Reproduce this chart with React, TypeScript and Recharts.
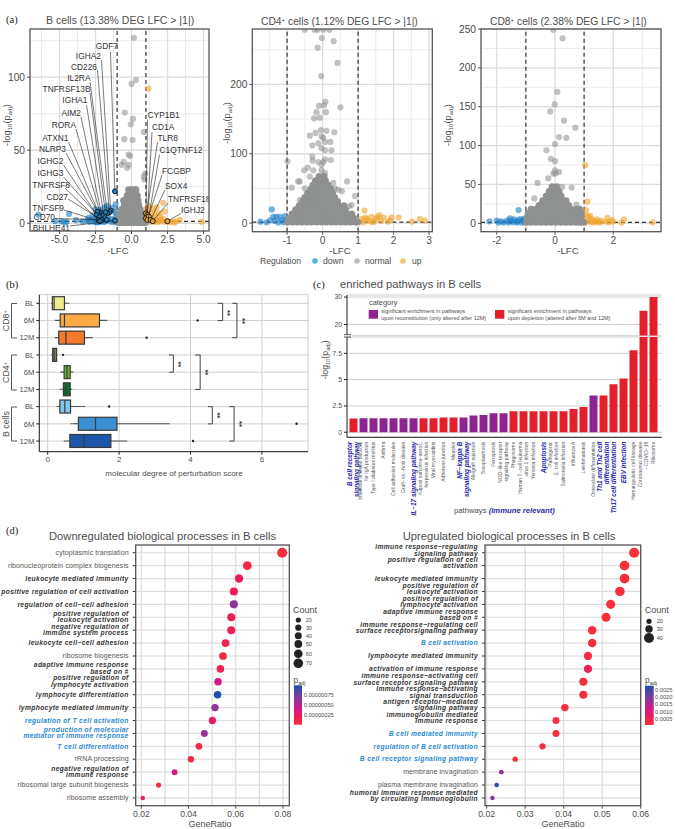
import {
  Bar,
  BarChart,
  CartesianGrid,
  Cell,
  ReferenceLine,
  Scatter,
  ScatterChart,
  XAxis,
  YAxis,
} from 'recharts';

const W = 675;
const H = 829;
const INK = '#4d4d4d';
const GRID = '#dcdcdc';

type Pt = [number, number];

// ---------- (a) volcano values, [LFC, -log10 padj] ----------
const bDown: Pt[] = [[-6.47,5.9],[-4.34,6.4],[-4.66,0.7],[-4.85,1.2],[-4.5,1],[-3.85,2.1],[-3.4,1.3],[-3.1,1.8],[-2.9,1],[-2.75,2.6],[-2.6,1.1],[-2.5,3.5],[-2.45,1],[-2.4,0.6],[-2.25,0.9],[-2.1,1.2],[-2,3.6],[-1.9,0.8],[-1.8,1.5],[-1.65,4],[-1.5,1.2],[-1.4,3],[-1.3,0.8],[-1.2,2.4],[-1.1,1],[-1.05,3.8],[-2.5,9.5],[-2.2,9],[-1.9,10.5],[-1.6,9.5],[-1.3,10.5],[-1.1,13],[-1.2,8],[-1.05,6.5],[-1.7,12],[-2.7,5.5],[-3,3.5],[-5.3,1.4]];
const bNormal: Pt[] = [[0.17,127],[0.31,98],[0,95.4],[-0.47,75.8],[0.1,71.4],[-0.05,67.8],[0.86,62.5],[-0.5,57.6],[0.07,57],[-0.2,47],[-0.1,46],[-0.7,40],[-0.55,42],[-0.2,40],[-0.3,38],[0.85,32],[0.95,34],[0.9,30]];
const bMass: [number, number[]][] = [
  [0.6, [-0.95,-0.75,-0.55,-0.35,-0.15,0.05,0.25,0.45,0.65,0.85,0.97]],
  [3.5, [-0.9,-0.7,-0.5,-0.3,-0.1,0.1,0.3,0.5,0.7,0.9]],
  [6.5, [-0.85,-0.6,-0.4,-0.2,0,0.2,0.4,0.6,0.82]],
  [9.5, [-0.7,-0.45,-0.25,-0.05,0.15,0.35,0.6]],
  [12.5, [-0.5,-0.3,-0.1,0.1,0.3,0.5]],
  [15.5, [-0.55,-0.3,-0.05,0.2,0.45]],
  [19, [-0.3,-0.12,0.1,0.3,0.4]],
  [23, [-0.2,0,0.2,0.3]],
];
const bUp: Pt[] = [[1.17,92.2],[2.2,14],[1.75,11],[1.05,10],[1.5,10],[1.2,12],[1.05,7],[1.3,7.5],[1.6,7],[1.9,7],[2.3,8],[1.1,4],[1.4,4],[1.7,4],[2,4.5],[2.2,3],[1.05,1],[1.3,1],[1.6,1],[1.85,1],[2.05,1.2],[2.3,1],[2.6,0.9],[3.37,2.3],[3,0.5],[2.8,1],[3.1,1.5],[4.87,1],[1.15,2.2],[1.5,2.5],[1.75,2],[2,2.2]];

const geneNames = ['GDF7','IGHA2','CD226','IL2RA','TNFRSF13B','IGHA1','AIM2','RORA','ATXN1','NLRP3','IGHG2','IGHG3','TNFRSF8','CD27','TNFSF9','CD70','BHLHE41','CYP1B1','CD1A','TLR8','C1QTNF12','FCGBP','SOX4','TNFRSF18','IGHJ2'];
const geneLfc = [-1.15,-1.45,-1.54,-1.68,-1.82,-1.91,-2.07,-2.19,-2.28,-2.37,-2.42,-2.23,-2.3,-2.07,-2.19,-1.72,-1.15,1,1.1,1,1.2,1.1,1.33,1.47,2.49];
const genePadj = [21.9,8.7,7.5,6.8,7.5,4.6,5.7,7.5,6.8,7.8,5.7,4.1,2.3,2.3,1.4,2.3,1.8,6.8,5.7,3.4,4.6,2.3,2.3,1.4,1.4];
// label layout: text x, baseline y, anchor, leader start x, leader start y (page pixels)
const geneLabelLayout: [number, number, 'end' | 'start', number, number][] = [
  [118,49,'end',110.5,52],[101,59,'end',101.5,60],[97,70,'end',97.5,70],[90.5,81,'end',90,82],[90.5,92,'end',90,93],
  [87.5,103,'end',86.5,105],[81,116,'end',81,117],[76,128,'end',76,129],[68.5,141,'end',68.5,142],[66,152,'end',66,153],
  [63.5,164,'end',63.5,165],[63.5,176,'end',63.5,177],[70,188,'end',65,188],[68,200,'end',68,199],[64,211,'end',64,210],
  [55,220,'end',55,218.5],[70,231,'end',70,226],
  [147.5,118,'start',147.5,119.5],[152,130,'start',152,132],[157.5,141,'start',157.5,142],[159.5,153,'start',159.5,154.5],
  [162,174,'start',162,175],[165,189,'start',165,190],[168,202,'start',168,203],[181,213,'start',181,213.5],
];

const cd4Down: Pt[] = [[-1.43,19.7],[-1.75,2],[-1.58,1],[-1.48,4],[-1.39,9],[-1.3,9],[-1.2,9],[-1.06,10],[-1.15,4],[-1.25,0.8],[-1.1,1],[-1.35,3],[-1.02,5]];
const cd4Normal: Pt[] = [[-0.5,279],[-0.22,279],[-0.14,279],[0.02,279],[0.19,279],[-0.02,267],[0.31,262.5],[-0.14,253],[0.42,231],[-0.04,212],[0.08,175],[-0.1,169],[0.04,170],[0.5,167],[-0.17,160],[0.09,160],[-0.08,152],[-0.24,151],[-0.05,134],[0.11,133],[0.33,131],[-0.2,130],[-0.36,126],[-0.03,125],[0.02,123],[-0.29,112],[-0.12,115],[0.07,117],[0.22,117],[-0.03,108],[0.07,105],[0.25,105],[-0.29,96],[-0.28,90],[-0.99,89],[0.07,92],[0.02,88],[0.23,91],[-0.12,88],[-0.03,84],[-0.42,80],[-0.52,76],[-0.26,76],[-0.03,76],[0.07,72],[-0.36,67],[-0.64,60],[-0.69,60],[0.69,60],[0.3,58],[-0.87,51],[-0.5,50],[0.44,48],[0.54,46],[0.91,39],[0.35,50],[-0.64,33],[0.82,26],[0.74,24]];
const cd4Mass: [number, number[]][] = [
  [1.5, [-0.98,-0.85,-0.72,-0.58,-0.44,-0.31,-0.17,-0.03,0.11,0.25,0.38,0.52,0.66,0.79,0.92,0.98]],
  [7, [-0.95,-0.8,-0.66,-0.52,-0.38,-0.24,-0.1,0.04,0.18,0.32,0.46,0.6,0.74,0.88]],
  [13, [-0.86,-0.72,-0.58,-0.44,-0.3,-0.16,-0.02,0.12,0.26,0.4,0.54,0.68,0.82]],
  [19, [-0.76,-0.62,-0.48,-0.34,-0.2,-0.06,0.08,0.22,0.36,0.5,0.64]],
  [25, [-0.66,-0.52,-0.38,-0.24,-0.1,0.04,0.18,0.32,0.46,0.6]],
  [31, [-0.56,-0.42,-0.28,-0.14,0,0.14,0.28,0.42]],
  [37, [-0.5,-0.36,-0.22,-0.08,0.06,0.2,0.34]],
  [43, [-0.42,-0.28,-0.14,0,0.14,0.28]],
  [49, [-0.33,-0.19,-0.05,0.09,0.23]],
  [55, [-0.27,-0.13,0.01,0.15]],
  [61, [-0.2,-0.06,0.08]],
  [67, [-0.1,0.04]],
];
const cd4Up: Pt[] = [[1.18,18],[1.05,2],[1.1,6],[1.2,8],[1.3,3],[1.38,9],[1.45,2],[1.5,6],[1.6,11.5],[1.65,3],[1.72,8],[1.85,2],[1.94,8],[1.9,4],[2.14,8],[2.52,2],[2.74,6],[2.88,3.4],[1.15,1],[1.25,6],[1.4,1.5],[1.55,9]];

const cd8Down: Pt[] = [[-1.25,17],[-2.25,2.5],[-2,3.4],[-1.94,1],[-1.77,1],[-1.54,6.4],[-1.54,3],[-1.45,1.5],[-1.6,1],[-1.4,5],[-1.3,1],[-1.25,3.5],[-1.15,1],[-1.1,4],[-1.05,1.5],[-1.35,2.5],[-1.2,5.5],[-1.05,6],[-1.85,2.5],[-1.65,3.5]];
const cd8Normal: Pt[] = [[-0.06,249],[0.26,238],[0.08,169],[-0.01,153],[-0.16,144],[0.31,132],[0.7,123],[0.14,111],[0.39,110],[0,102],[-0.29,94],[-0.14,83],[0,80],[0,68],[0.14,66],[-0.06,64],[0.02,64],[-0.23,58],[-0.6,52],[0.57,46],[0.25,47],[-0.71,32],[0.74,24]];
const cd8Mass: [number, number[]][] = [
  [1.5, [-0.98,-0.82,-0.65,-0.48,-0.31,-0.14,0.03,0.2,0.37,0.54,0.71,0.86,0.98]],
  [7, [-0.96,-0.79,-0.62,-0.45,-0.28,-0.11,0.06,0.23,0.4,0.57,0.74,0.9]],
  [13, [-0.92,-0.75,-0.58,-0.41,-0.24,-0.07,0.1,0.27,0.44,0.61,0.78,0.9]],
  [18, [-0.82,-0.64,-0.47,-0.3,-0.13,0.04,0.21,0.38,0.55,0.72,0.84]],
  [23, [-0.55,-0.38,-0.21,-0.04,0.13,0.3,0.47]],
  [29, [-0.42,-0.25,-0.08,0.09,0.26,0.38]],
  [35, [-0.3,-0.13,0.04,0.21]],
  [41, [-0.2,-0.03,0.14]],
  [47, [-0.1,0.06]],
];
const cd8Up: Pt[] = [[1.04,75],[1.12,28],[1.07,17],[3.35,1.3],[2.37,5],[2.29,1],[2,2],[1.05,1],[1.1,4],[1.15,8],[1.2,2],[1.25,6],[1.3,1],[1.35,3.5],[1.4,1.5],[1.45,5],[1.5,2],[1.55,1],[1.6,3],[1.75,2],[1.8,7],[1.85,1.5],[1.95,4],[1.05,11],[1.2,10]];

// ---------- (b) molecular degree of perturbation ----------
const mdpGroups = ['CD8+ BL','CD8+ 6M','CD8+ 12M','CD4+ BL','CD4+ 6M','CD4+ 12M','B BL','B 6M','B 12M'];
const mdpLow = [0.1,0.2,0.2,0.1,0.35,0.33,0.25,0.64,0.45];
const mdpQ1 = [0.13,0.35,0.31,0.14,0.46,0.44,0.34,0.86,0.62];
const mdpMedian = [0.18,0.47,0.51,0.18,0.54,0.51,0.48,1.34,1.01];
const mdpQ3 = [0.47,1.45,1.03,0.25,0.63,0.63,0.64,1.94,1.77];
const mdpHigh = [0.61,1.67,1.26,0.27,0.72,0.69,1.05,3.42,2.23];
const mdpOutlier = [null,4.2,2.77,0.43,null,null,1.72,6.97,4.07];
const mdpColors = ['#eeea8e','#fbab42','#f57a2c','#76864c','#6cb52d','#0f6b36','#7ec8f2','#3a90d2','#1b56a8'];
const mdpBrackets: [string, string, number, number][] = [
  ['CD8+ BL','CD8+ 6M',4.76,4.9],['CD8+ BL','CD8+ 12M',5.17,5.3],
  ['CD4+ BL','CD4+ 6M',3.4,3.52],['CD4+ BL','CD4+ 12M',4.13,4.27],
  ['B BL','B 6M',4.49,4.61],['B BL','B 12M',5.09,5.22],
];

// ---------- (c) enriched pathways ----------
const pathways = ['B cell receptor\nsignaling pathway','Intestinal immune network\nfor IgA production','Type I diabetes mellitus','Asthma','Cell adhesion molecules','Graft−vs.−host disease','IL−17 signaling pathway','Kaposi sarcoma−assoc.\nherpesvirus infection','Viral myocarditis','Adherens junction','Measles','NF−kappa B\nsignaling pathway','Allograft rejection','Toxoplasmosis','Ferroptosis','NOD−like receptor\nsignaling pathway','Phagosome','Human T−cell leukemia\nvirus 1 infection','Yersinia infection','Apoptosis','Pathogenic\nE. coli infection','Salmonella infection','Influenza A','Leishmaniasis','Osteoclast differentiation','Th1 and Th2 cell\ndifferentiation','Th17 cell differentiation','EBV infection','Hematopoietic cell lineage','Coronavirus disease\n− COVID−19','Ribosome'];
const pathwayValues = [1.3,1.33,1.33,1.33,1.33,1.33,1.33,1.33,1.33,1.4,1.4,1.4,1.6,1.65,1.8,1.8,2,2,2,2,2,2,2.2,2.4,3.5,3.5,4.55,5.1,7.8,25,30];
// r = upon depletion, p = upon reconstitution
const pathwayCategory = 'rpppppprrrrppppprrrrrrrrprrrrrr';
const immunePathways = ['B cell receptor\nsignaling pathway','IL−17 signaling pathway','NF−kappa B\nsignaling pathway','Apoptosis','Th1 and Th2 cell\ndifferentiation','Th17 cell differentiation','EBV infection'];

// ---------- (d) GO dot plots ----------
const downTerms = ['cytoplasmic translation','ribonucleoprotein complex biogenesis','leukocyte mediated immunity','positive regulation of cell activation','regulation of cell−cell adhesion','positive regulation of\nleukocyte activation','negative regulation of\nimmune system process','leukocyte cell−cell adhesion','ribosome biogenesis','adaptive immune response\nbased on #','positive regulation of\nlymphocyte activation','lymphocyte differentiation','lymphocyte mediated immunity','regulation of T cell activation','production of molecular\nmediator of immune response','T cell differentiation','rRNA processing','negative regulation of\nimmune response','ribosomal large subunit biogenesis','ribosome assembly'];
const downStyle = ['p','p','b','b','b','b','b','b','p','b','b','b','b','c','c','c','p','b','p','p'];
const downRatio = [0.0797,0.0649,0.0614,0.0592,0.0592,0.0581,0.0581,0.0557,0.0546,0.0535,0.0525,0.0523,0.0512,0.0501,0.0467,0.0444,0.041,0.0341,0.0273,0.0206];
const downCount = [72,58,55,53,53,52,52,50,49,48,47,47,46,45,42,40,37,31,25,18];
const downPadj = [5e-8,1e-7,2.5e-7,2.5e-7,7e-7,2.3e-7,2.3e-7,2e-7,8e-8,2e-7,4.5e-7,1e-6,7e-7,3e-7,6.5e-7,1e-7,1e-7,4.5e-7,6e-8,3e-7];

const upTerms = ['immune response−regulating\nsignaling pathway','positive regulation of cell\nactivation','leukocyte mediated immunity','positive regulation of\nleukocyte activation','positive regulation of\nlymphocyte activation','adaptive immune response\nbased on #','immune response−regulating cell\nsurface receptorsignaling pathway','B cell activation','lymphocyte mediated immunity','activation of immune response','immune response−activating cell\nsurface receptor signaling pathway','immune response−activating\nsignal transduction','antigen receptor−mediated\nsignaling pathway','immunoglobulin mediated\nimmune response','B cell mediated immunity','regulation of B cell activation','B cell receptor signaling pathway','membrane invagination','plasma membrane invagination','humoral immune response mediated\nby circulating immunoglobulin'];
const upStyle = ['b','b','b','b','b','b','b','c','b','b','b','b','b','b','c','c','c','p','p','b'];
const upRatio = [0.0583,0.0558,0.0558,0.0546,0.0522,0.051,0.0474,0.0474,0.0463,0.0463,0.0451,0.0451,0.0403,0.038,0.038,0.0345,0.0274,0.0238,0.0226,0.0215];
const upCount = [43,41,41,40,38,37,35,35,34,34,33,33,30,28,28,25,20,18,17,16];
const upPadj = [1e-5,1e-5,5e-5,5e-5,5e-5,5e-5,1e-4,1e-4,2e-4,6e-4,1e-4,1e-4,5e-5,1e-4,1e-4,1e-4,1e-4,0.0019,0.0028,0.0021];

const toPts = (a: Pt[]) => a.map(([x, y]) => ({ x, y }));
const massPts = (m: [number, number[]][]) => m.flatMap(([y, xs]) => xs.map((x) => ({ x, y })));
const frame = (x1: number, y1: number, x2: number, y2: number, yw: number, xh: number) => ({
  left: x1 - yw, top: y1, right: W - x2, bottom: H - y2 - xh,
});

const layer: React.CSSProperties = { position: 'absolute', left: 0, top: 0 };

const COLOR_STOPS = [[248,48,56],[236,30,90],[205,24,140],[122,62,158],[31,80,168]];
const padjColor = (padj: number, max: number) => {
  const t = Math.min(padj / max, 1) * (COLOR_STOPS.length - 1);
  const i = Math.min(Math.floor(t), COLOR_STOPS.length - 2);
  const f = t - i;
  const c = COLOR_STOPS[i].map((v, k) => Math.round(v + (COLOR_STOPS[i + 1][k] - v) * f));
  return `rgb(${c.join(',')})`;
};

interface VolcanoProps {
  box: [number, number, number, number];
  xDomain: [number, number];
  yDomain: [number, number];
  xTicks: number[];
  yTicks: number[];
  xMinor: number[];
  yMinor: number[];
  down: { x: number; y: number }[];
  normal: { x: number; y: number }[];
  mass: { x: number; y: number }[];
  up: { x: number; y: number }[];
  xFormat?: (v: number) => string;
  genes?: boolean;
}

const dot = (fill: string, opacity: number, r = 3.1) => (p: any) => (
  <circle cx={p.cx} cy={p.cy} r={r} fill={fill} fillOpacity={opacity} />
);

const geneMark = (p: any) => {
  const i = p.payload.i;
  const [tx, ty, anchor, lx, ly] = geneLabelLayout[i];
  return (
    <g>
      <line x1={lx} y1={ly} x2={p.cx} y2={p.cy} stroke="#222" strokeWidth={0.6} />
      <circle cx={p.cx} cy={p.cy} r={2.5} fill={i < 17 ? '#1b7fc4' : '#f0a32e'} stroke="#1a1a1a" strokeWidth={1} />
      <text x={tx} y={ty} textAnchor={anchor} fontSize={8.4} fill="#333">{geneNames[i]}</text>
    </g>
  );
};

const Volcano = ({ box, xDomain, yDomain, xTicks, yTicks, xMinor, yMinor, down, normal, mass, up, xFormat, genes }: VolcanoProps) => {
  const [x1, y1, x2, y2] = box;
  const genePts = geneNames.map((_, i) => ({ x: geneLfc[i], y: genePadj[i], i }));
  return (
    <div style={layer}>
      <ScatterChart width={W} height={H} margin={frame(x1, y1, x2, y2, 26, 20)}>
        <XAxis type="number" dataKey="x" domain={xDomain} ticks={xTicks} interval={0} allowDataOverflow height={20}
          tickFormatter={xFormat} tickSize={3} axisLine={false} tick={{ fill: INK, fontSize: 10.2 }} stroke={INK} />
        <YAxis type="number" dataKey="y" domain={yDomain} ticks={yTicks} interval={0} allowDataOverflow width={26}
          tickSize={3} axisLine={false} tick={{ fill: INK, fontSize: 10.2 }} stroke={INK} />
        {xMinor.map((v) => <ReferenceLine key={`xm${v}`} x={v} stroke="#ececec" strokeWidth={1} />)}
        {yMinor.map((v) => <ReferenceLine key={`ym${v}`} y={v} stroke="#ececec" strokeWidth={1} />)}
        {xTicks.map((v) => <ReferenceLine key={`x${v}`} x={v} stroke={GRID} strokeWidth={1.3} />)}
        {yTicks.map((v) => <ReferenceLine key={`y${v}`} y={v} stroke={GRID} strokeWidth={1.3} />)}
        <Scatter data={normal} isAnimationActive={false} shape={dot('#8d8f8f', 0.55)} />
        <Scatter data={down} isAnimationActive={false} shape={dot('#1b7fc4', 0.6)} />
        <Scatter data={up} isAnimationActive={false} shape={dot('#f0a32e', 0.6)} />
        <Scatter data={mass} isAnimationActive={false} shape={dot('#8f9191', 1, 3.5)} />
        <ReferenceLine x={-1} stroke="#333" strokeWidth={1.2} strokeDasharray="4 3" />
        <ReferenceLine x={1} stroke="#333" strokeWidth={1.2} strokeDasharray="4 3" />
        <ReferenceLine y={1.3} stroke="#333" strokeWidth={1.2} strokeDasharray="4 3" />
        {genes && <Scatter data={genePts} isAnimationActive={false} shape={geneMark} />}
      </ScatterChart>
    </div>
  );
};

const BoxShape = (p: any) => {
  const { x, y, width, height, payload } = p;
  const perUnit = width / (payload.q3 - payload.q1);
  const at = (v: number) => x + (v - payload.q1) * perUnit;
  const cy = y + height / 2;
  return (
    <g>
      <line x1={at(payload.low)} x2={at(payload.high)} y1={cy} y2={cy} stroke="#555" strokeWidth={1.1} />
      <rect x={x} y={y} width={width} height={height} fill={payload.color} stroke="#3a3a3a" strokeWidth={1.2} />
      <line x1={at(payload.median)} x2={at(payload.median)} y1={y} y2={y + height} stroke="#3a3a3a" strokeWidth={1.2} />
      {payload.outlier != null && <circle cx={at(payload.outlier)} cy={cy} r={1.2} fill="#222" />}
    </g>
  );
};

const MdpChart = () => {
  const rows = mdpGroups.map((name, i) => ({
    name, range: [mdpQ1[i], mdpQ3[i]], q1: mdpQ1[i], q3: mdpQ3[i], low: mdpLow[i], high: mdpHigh[i],
    median: mdpMedian[i], outlier: mdpOutlier[i], color: mdpColors[i],
  }));
  return (
    <div style={layer}>
      <BarChart layout="vertical" data={rows} width={W} height={H} barSize={13} margin={frame(39.3, 294.7, 308, 451.7, 36, 20)}>
        <CartesianGrid stroke="#cfcfcf" strokeWidth={1} />
        <XAxis type="number" domain={[-0.235, 7.29]} ticks={[0, 2, 4, 6]} allowDataOverflow tickSize={3} height={20}
          tick={{ fill: INK, fontSize: 8 }} stroke="#222" />
        <YAxis type="category" dataKey="name" width={36} interval={0} tickSize={3} padding={{ top: 0, bottom: 2 }}
          tickFormatter={(v: string) => v.split(' ')[1]} tick={{ fill: INK, fontSize: 7.6 }} stroke="#222" />
        <Bar dataKey="range" isAnimationActive={false} shape={BoxShape} />
        {mdpBrackets.flatMap(([a, b, tip, x]) => [
          <ReferenceLine key={`${a}${b}v`} stroke="#444" strokeWidth={1} segment={[{ x, y: a }, { x, y: b }]} />,
          <ReferenceLine key={`${a}${b}t`} stroke="#444" strokeWidth={1} segment={[{ x: tip, y: a }, { x, y: a }]} />,
          <ReferenceLine key={`${a}${b}b`} stroke="#444" strokeWidth={1} segment={[{ x: tip, y: b }, { x, y: b }]} />,
        ])}
      </BarChart>
    </div>
  );
};

const PathwayTick = (p: any) => {
  const text: string = p.payload.value;
  const immune = immunePathways.includes(text);
  const lines = text.split('\n');
  const fs = immune ? 6.4 : 5;
  const lh = immune ? 6.6 : 5.4;
  return (
    <g transform={`translate(${p.x},441.7) rotate(-90)`}>
      {lines.map((l, i) => (
        <text key={l} x={0} y={(i - (lines.length - 1) / 2) * lh + fs * 0.35} textAnchor="end" fontSize={fs}
          fontWeight={immune ? 'bold' : 'normal'} fontStyle={immune ? 'italic' : 'normal'}
          fill={immune ? '#2b2ba8' : '#5a5a5a'}>{l}</text>
      ))}
    </g>
  );
};

const PathwayChart = () => {
  const rows = pathways.map((name, i) => ({
    name, value: pathwayValues[i], upper: pathwayValues[i] > 16 ? pathwayValues[i] : null,
  }));
  const fill = (i: number) => (pathwayCategory[i] === 'p' ? '#8e2491' : '#e3202a');
  return (
    <>
      <div style={layer}>
        <BarChart data={rows} width={W} height={H} barCategoryGap={1.2} margin={frame(347, 295, 661.7, 334.7, 20, 1)}>
          <CartesianGrid vertical={false} stroke="#cfcfcf" />
          <XAxis dataKey="name" hide height={1} padding={{ left: 1.3, right: 3.4 }} />
          <YAxis domain={[15.9, 30.75]} ticks={[20, 30]} allowDataOverflow width={20} tickSize={3}
            tick={{ fill: INK, fontSize: 6.8 }} stroke="#222" />
          <Bar dataKey="upper" isAnimationActive={false}>
            {rows.map((r, i) => <Cell key={r.name} fill={fill(i)} />)}
          </Bar>
        </BarChart>
      </div>
      <div style={layer}>
        <BarChart data={rows} width={W} height={H} barCategoryGap={1.2} margin={frame(347, 337, 661.7, 437.3, 20, 20)}>
          <CartesianGrid vertical={false} stroke="#cfcfcf" />
          <XAxis dataKey="name" interval={0} height={20} padding={{ left: 1.3, right: 3.4 }} tickLine={false} stroke="#222" tick={PathwayTick} />
          <YAxis domain={[-0.48, 9.05]} ticks={[0, 2.5, 5, 7.5]} allowDataOverflow width={20} tickSize={3}
            tick={{ fill: INK, fontSize: 6.8 }} stroke="#222" />
          <Bar dataKey="value" isAnimationActive={false}>
            {rows.map((r, i) => <Cell key={r.name} fill={fill(i)} />)}
          </Bar>
        </BarChart>
      </div>
    </>
  );
};

const termStyles: Record<string, any> = {
  p: { fill: '#555', fontWeight: 'normal', fontStyle: 'normal', fontSize: 7, letterSpacing: 0.1 },
  b: { fill: '#333', fontWeight: 'bold', fontStyle: 'italic', fontSize: 6.7, letterSpacing: 0.36 },
  c: { fill: '#2a87d0', fontWeight: 'bold', fontStyle: 'italic', fontSize: 6.7, letterSpacing: 0.36 },
};

interface DotPlotProps {
  box: [number, number, number, number];
  xDomain: [number, number];
  xTicks: number[];
  xMinor: number[];
  terms: string[];
  styles: string[];
  ratio: number[];
  count: number[];
  padj: number[];
  padjMax: number;
  radius: (count: number) => number;
  shift: number;
}

const DotPlot = ({ box, xDomain, xTicks, xMinor, terms, styles, ratio, count, padj, padjMax, radius, shift }: DotPlotProps) => {
  const [x1, y1, x2, y2] = box;
  const rows = terms.map((_, i) => ({ x: ratio[i], y: i + 1, count: count[i], padj: padj[i] }));
  const rowTicks = terms.map((_, i) => i + 1);
  const termTick = (p: any) => {
    const i = p.payload.value - 1;
    const lines = terms[i].split('\n');
    return (
      <g>
        {lines.map((l, k) => (
          <text key={l} x={x1 - 7} y={p.y + 2.2 + (k - (lines.length - 1) / 2) * 6.3 + (lines.length > 1 ? shift : 0)}
            textAnchor="end" {...termStyles[styles[i]]}>{l}</text>
        ))}
      </g>
    );
  };
  return (
    <div style={layer}>
      <ScatterChart width={W} height={H} margin={frame(x1, y1, x2, y2, 40, 20)}>
        <XAxis type="number" dataKey="x" domain={xDomain} ticks={xTicks} interval={0} allowDataOverflow tickSize={3} height={20}
          axisLine={false} tickFormatter={(v: number) => v.toFixed(2)} tick={{ fill: INK, fontSize: 8.6 }} stroke={INK} />
        <YAxis type="number" dataKey="y" domain={[0.4, 20.6]} reversed ticks={rowTicks} interval={0} allowDataOverflow
          width={40} tickSize={3} axisLine={false} stroke="#333" tick={termTick} />
        {xMinor.map((v) => <ReferenceLine key={`m${v}`} x={v} stroke={GRID} strokeWidth={1.2} />)}
        {xTicks.map((v) => <ReferenceLine key={`x${v}`} x={v} stroke={GRID} strokeWidth={1.2} />)}
        {rowTicks.map((v) => <ReferenceLine key={`y${v}`} y={v} stroke={GRID} strokeWidth={1.2} />)}
        <Scatter data={rows} isAnimationActive={false}
          shape={(p: any) => <circle cx={p.cx} cy={p.cy} r={radius(p.payload.count)} fill={padjColor(p.payload.padj, padjMax)} />} />
      </ScatterChart>
    </div>
  );
};

const LogTitle = ({ x, y, fs = 9.4 }: { x: number; y: number; fs?: number }) => (
  <text transform={`translate(${x},${y}) rotate(-90)`} textAnchor="middle" fontSize={fs} fill={INK}>
    -log<tspan dy={2} fontSize={fs * 0.64}>10</tspan><tspan dy={-2}>(p</tspan><tspan dy={2} fontSize={fs * 0.64}>adj</tspan><tspan dy={-2}>)</tspan>
  </text>
);

const Overlay = () => {
  const T = (x: number, y: number, s: string, fs: number, extra: any = {}) => (
    <text x={x} y={y} fontSize={fs} fill={INK} {...extra}>{s}</text>
  );
  const stars: Pt[] = [[225.3, 313], [240.3, 321], [176.3, 364.3], [202.7, 372.3], [215, 415.3], [237.3, 424]];
  const groups: [string, number, number][] = [['CD8+', 303.5, 338], ['CD4+', 355, 390], ['B cells', 407, 441]];
  const serif = { fontFamily: '"Liberation Serif"', fill: '#222' };
  return (
    <svg width={W} height={H} style={{ ...layer, pointerEvents: 'none' }}>
      <defs>
        <linearGradient id="padjBar" x1="0" y1="0" x2="0" y2="1">
          <stop offset="0%" stopColor="#1f50a8" />
          <stop offset="30%" stopColor="#7a3e9e" />
          <stop offset="55%" stopColor="#cd188c" />
          <stop offset="80%" stopColor="#ec1e5a" />
          <stop offset="100%" stopColor="#f83038" />
        </linearGradient>
      </defs>
      {T(6, 23, '(a)', 10.5, serif)}
      {T(6, 288, '(b)', 10.5, serif)}
      {T(313, 288, '(c)', 10.5, serif)}
      {T(6, 534, '(d)', 10.5, serif)}

      {T(46, 24, 'B cells (13.38% DEG LFC > |1|)', 10.5)}
      <text x={261} y={25} fontSize={10.3} fill={INK}>CD4<tspan dy={-3} fontSize={6}>+</tspan><tspan dy={3}> cells (1.12% DEG LFC &gt; |1|)</tspan></text>
      <text x={490} y={25} fontSize={10.3} fill={INK}>CD8<tspan dy={-3} fontSize={6}>+</tspan><tspan dy={3}> cells (2.38% DEG LFC &gt; |1|)</tspan></text>
      {[[30, 29, 209, 231], [252.3, 29, 432.3, 231.7], [481, 29, 661, 231.7], [135.7, 545, 289.3, 805.7], [485, 545, 640.7, 805.7]].map(([a, b, c, d]) => (
        <rect key={a} x={a} y={b} width={c - a} height={d - b} fill="none" stroke="#555" strokeWidth={1.3} />
      ))}
      <LogTitle x={10} y={125} />
      <LogTitle x={230} y={123} />
      <LogTitle x={451} y={125} />
      {T(118, 253.5, '-LFC', 9.6, { textAnchor: 'middle' })}
      {T(340, 253.5, '-LFC', 9.6, { textAnchor: 'middle' })}
      {T(568, 253.5, '-LFC', 9.6, { textAnchor: 'middle' })}

      {T(260, 264, 'Regulation', 8.6)}
      <circle cx={315} cy={261} r={2.8} fill="#4db4e8" />
      {T(323, 264, 'down', 8.6)}
      <circle cx={357} cy={261} r={2.8} fill="#bdbdbd" />
      {T(365, 264, 'normal', 8.6)}
      <circle cx={403} cy={261} r={2.8} fill="#f3c37c" />
      {T(412, 264, 'up', 8.6)}

      {groups.map(([g, a, b]) => (
        <g key={g}>
          <path d={`M17 ${a}H11.5V${b}H17`} fill="none" stroke="#444" strokeWidth={0.9} />
          <text transform={`translate(9,${(a + b) / 2}) rotate(-90)`} textAnchor="middle" fontSize={8.8} fill={INK}>
            {g.replace('+', '')}{g.includes('+') && <tspan dy={-2.5} fontSize={5.5}>+</tspan>}
          </text>
        </g>
      ))}
      {stars.map(([x, y]) => (
        <text key={x} transform={`translate(${x},${y}) rotate(90)`} textAnchor="middle" fontSize={7.5} fontWeight="bold" fill="#333">**</text>
      ))}
      {T(174, 476, 'molecular degree of perturbation score', 8, { textAnchor: 'middle' })}

      {T(340, 288, 'enriched pathways in B cells', 11.2)}
      <LogTitle x={328} y={360} fs={8.8} />
      {T(369, 305, 'category', 7.4)}
      <rect x={368.7} y={310} width={9.3} height={8.7} fill="#8e2491" />
      {T(381.3, 312.5, 'significant enrichment in pathways', 5.5)}
      {T(381.3, 319.5, 'upon reconstitution (only altered after 12M)', 5.5)}
      <rect x={495} y={310} width={9.3} height={8.7} fill="#e3202a" />
      {T(507.7, 312.5, 'significant enrichment in pathways', 5.5)}
      {T(507.7, 319.5, 'upon depletion (altered after 6M and 12M)', 5.5)}
      <rect x={343} y={334.6} width={9} height={2.5} fill="#fff" />
      <path d="M344 334.7H351M344 337H351" stroke="#222" strokeWidth={0.8} />
      <text x={454} y={513} fontSize={7.7} fill={INK}>pathways <tspan fill="#2b2ba8" fontWeight="bold" fontStyle="italic">(immune relevant)</tspan></text>

      {T(49, 540, 'Downregulated biological processes in B cells', 11.2)}
      {T(402.7, 540, 'Upregulated biological processes in B cells', 11.2)}
      {T(210, 826.5, 'GeneRatio', 9, { textAnchor: 'middle' })}
      {T(563, 826.5, 'GeneRatio', 9, { textAnchor: 'middle' })}

      {T(293, 613, 'Count', 9)}
      {([[20, 620, 2.6], [30, 627.7, 3.1], [40, 635.7, 3.5], [50, 644, 3.9], [60, 653.7, 4.3], [70, 663.3, 4.8]] as number[][]).map(([c, y, r]) => (
        <g key={c}>
          <circle cx={298.3} cy={y} r={r} fill="#222" />
          {T(305.7, y + 2, String(c), 5.7)}
        </g>
      ))}
      <rect x={294} y={685.3} width={8} height={39.4} fill="url(#padjBar)" />
      <text x={293.5} y={683} fontSize={8.4} fill={INK}>p<tspan dy={1.5} fontSize={5.4}>adj</tspan></text>
      {T(303.7, 697.2, '0.00000075', 5.7)}
      {T(303.7, 707.2, '0.00000050', 5.7)}
      {T(303.7, 717.2, '0.00000025', 5.7)}

      {T(644.7, 613, 'Count', 9)}
      {([[20, 621.3, 2.6], [30, 629, 3.7], [40, 638, 5]] as number[][]).map(([c, y, r]) => (
        <g key={c}>
          <circle cx={649} cy={y} r={r} fill="#222" />
          {T(656.7, y + 2, String(c), 5.7)}
        </g>
      ))}
      <rect x={645} y={685.7} width={8.7} height={39.3} fill="url(#padjBar)" />
      <text x={645} y={683} fontSize={8.4} fill={INK}>p<tspan dy={1.5} fontSize={5.4}>adj</tspan></text>
      {T(655, 691.7, '0.0025', 5.7)}
      {T(655, 699, '0.0020', 5.7)}
      {T(655, 706.3, '0.0015', 5.7)}
      {T(655, 713.6, '0.0010', 5.7)}
      {T(655, 720.9, '0.0005', 5.7)}
    </svg>
  );
};

export default function App() {
  return (
    <div style={{ ...layer, width: W, height: H, overflow: 'hidden', background: '#fff', fontFamily: '"Liberation Sans", Arial, sans-serif' }}>
      <Volcano box={[30, 29, 209, 231]} xDomain={[-7.05, 5.38]} yDomain={[-5.3, 133]}
        xTicks={[-5, -2.5, 0, 2.5, 5]} yTicks={[0, 50, 100]} xMinor={[-6.25, -3.75, -1.25, 1.25, 3.75]} yMinor={[25, 75, 125]}
        xFormat={(v) => v.toFixed(1)} down={toPts(bDown)} normal={toPts(bNormal)} mass={massPts(bMass)} up={toPts(bUp)} genes />
      <Volcano box={[252.3, 29, 432.3, 231.7]} xDomain={[-1.98, 3.09]} yDomain={[-12.5, 280]}
        xTicks={[-1, 0, 1, 2, 3]} yTicks={[0, 100, 200]} xMinor={[-1.5, -0.5, 0.5, 1.5, 2.5]} yMinor={[50, 150, 250]}
        down={toPts(cd4Down)} normal={toPts(cd4Normal)} mass={massPts(cd4Mass)} up={toPts(cd4Up)} />
      <Volcano box={[481, 29, 661, 231.7]} xDomain={[-2.54, 3.64]} yDomain={[-10.8, 250]}
        xTicks={[-2, 0, 2]} yTicks={[0, 50, 100, 150, 200, 250]} xMinor={[-1, 1, 3]} yMinor={[25, 75, 125, 175, 225]}
        down={toPts(cd8Down)} normal={toPts(cd8Normal)} mass={massPts(cd8Mass)} up={toPts(cd8Up)} />
      <MdpChart />
      <PathwayChart />
      <DotPlot box={[135.7, 545, 289.3, 805.7]} xDomain={[0.0176, 0.0827]} xTicks={[0.02, 0.04, 0.06, 0.08]} xMinor={[0.03, 0.05, 0.07]}
        terms={downTerms} styles={downStyle} ratio={downRatio} count={downCount} padj={downPadj} padjMax={1e-6}
        radius={(c) => 2.2 + ((c - 18) * 2.9) / 54} shift={-0.5} />
      <DotPlot box={[485, 545, 640.7, 805.7]} xDomain={[0.01956, 0.06]} xTicks={[0.02, 0.03, 0.04, 0.05, 0.06]} xMinor={[]}
        terms={upTerms} styles={upStyle} ratio={upRatio} count={upCount} padj={upPadj} padjMax={0.0029}
        radius={(c) => 2.2 + ((c - 16) * 2.9) / 27} shift={-2.5} />
      <Overlay />
    </div>
  );
}
